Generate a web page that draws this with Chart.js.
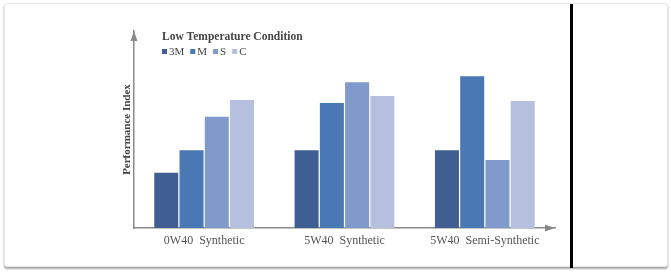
<!DOCTYPE html>
<html>
<head>
<meta charset="utf-8">
<script src="https://cdn.jsdelivr.net/npm/chart.js@4/dist/chart.umd.min.js"></script>
<style>
    body { margin: 0; background: #fff; }
    #wrap { position: relative; width: 671px; height: 278px; overflow: hidden; }
    #card {
        position: absolute; left: 4px; top: 3px; width: 662px; height: 262px;
        border: 1px solid #e6e6e6; border-radius: 3px;
        box-shadow: 0 2px 2px rgba(0, 0, 0, 0.35);
        background: #fff;
    }
    #risco { position: absolute; left: 570px; top: 4px; width: 3px; height: 264px; background: #000; }
    #grafico { position: absolute; left: 0; top: 0; }
</style>
</head>
<body>
<div id="wrap">
    <div id="card"></div>
    <div id="risco"></div>
    <canvas id="grafico" width="671" height="278"></canvas>
</div>
<script>
const categorias = ['0W40  Synthetic', '5W40  Synthetic', '5W40  Semi-Synthetic'];
const series = ['3M', 'M', 'S', 'C'];
const valores_3m = [2.8, 3.95, 3.95];
const valores_m = [3.95, 6.35, 7.7];
const valores_s = [5.65, 7.4, 3.45];
const valores_c = [6.5, 6.7, 6.45];
const cores = ['#3f5f93', '#4a78b4', '#7f9acb', '#b4c0dd'];
const titulo = 'Low Temperature Condition';
const fonte = "'Liberation Serif', 'Times New Roman', serif";

// setas dos eixos + titulo e legenda no canto
const decoracao = {
    id: 'decoracao',
    afterDraw(chart) {
        const ctx = chart.ctx;
        const a = chart.chartArea;
        ctx.save();
        ctx.fillStyle = '#8a8a8a';
        // seta eixo y
        ctx.beginPath();
        ctx.moveTo(a.left, a.top);
        ctx.lineTo(a.left - 3.5, a.top + 10);
        ctx.lineTo(a.left + 3.5, a.top + 10);
        ctx.closePath();
        ctx.fill();
        // seta eixo x
        ctx.beginPath();
        ctx.moveTo(a.right, a.bottom);
        ctx.lineTo(a.right - 10, a.bottom - 3.5);
        ctx.lineTo(a.right - 10, a.bottom + 3.5);
        ctx.closePath();
        ctx.fill();

        // titulo
        let x = a.left + 28;
        ctx.fillStyle = '#444';
        ctx.textBaseline = 'middle';
        ctx.font = 'bold 11.5px ' + fonte;
        ctx.fillText(titulo, x, 37);

        // legenda
        ctx.font = '11px ' + fonte;
        chart.data.datasets.forEach(function (ds) {
            ctx.fillStyle = ds.backgroundColor;
            ctx.fillRect(x, 49, 5, 5);
            x += 7;
            ctx.fillStyle = '#444';
            ctx.fillText(ds.label, x, 52);
            x += ctx.measureText(ds.label).width + 6;
        });
        ctx.restore();
    }
};

const lista_valores = [valores_3m, valores_m, valores_s, valores_c];

new Chart(document.getElementById('grafico'), {
    type: 'bar',
    data: {
        labels: categorias,
        datasets: series.map(function (nome, i) {
            return {
                label: nome,
                data: lista_valores[i],
                backgroundColor: cores[i],
                borderWidth: 0,
                barPercentage: 0.95,
                categoryPercentage: 0.72
            };
        })
    },
    options: {
        responsive: false,
        animation: false,
        layout: { padding: { left: 118, right: 116, top: 31, bottom: 20 } },
        plugins: {
            legend: { display: false },
            title: { display: false },
            tooltip: { enabled: false }
        },
        scales: {
            x: {
                grid: { display: false, drawTicks: false },
                border: { display: true, color: '#8a8a8a', width: 1.5 },
                ticks: {
                    padding: 6,
                    color: '#555',
                    font: { family: fonte, size: 12 }
                },
                afterFit: function (s) { s.height = 30; }
            },
            y: {
                min: 0,
                max: 10,
                grid: { display: false, drawTicks: false },
                border: { display: true, color: '#8a8a8a', width: 1.5 },
                ticks: { display: false },
                title: {
                    display: true,
                    text: 'Performance Index',
                    color: '#444',
                    padding: { top: 3, bottom: 0 },
                    font: { family: fonte, size: 11, weight: 'bold' }
                },
                afterFit: function (s) { s.width = 16; }
            }
        }
    },
    plugins: [decoracao]
});
</script>
</body>
</html>
